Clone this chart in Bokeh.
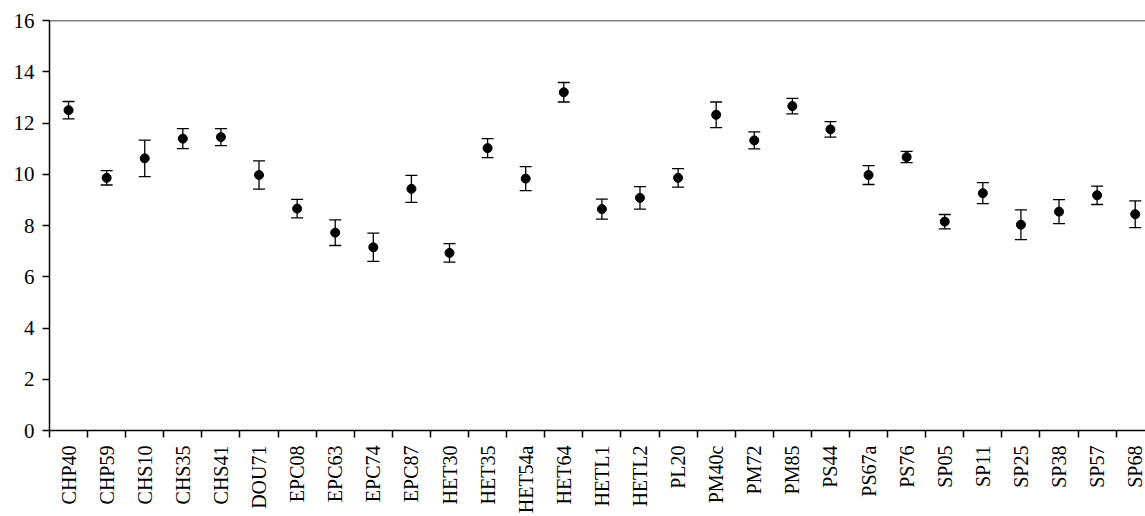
import math
from bokeh.plotting import figure
from bokeh.models import ColumnDataSource, Whisker, TeeHead, FixedTicker, Range1d, Span
from bokeh.embed import file_html
from bokeh.resources import INLINE

categories = ["CHP40", "CHP59", "CHS10", "CHS35", "CHS41", "DOU71", "EPC08", "EPC63",
              "EPC74", "EPC87", "HET30", "HET35", "HET54a", "HET64", "HETL1", "HETL2",
              "PL20", "PM40c", "PM72", "PM85", "PS44", "PS67a", "PS76", "SP05", "SP11",
              "SP25", "SP38", "SP57", "SP68"]
means = [12.50, 9.86, 10.62, 11.39, 11.45, 9.97, 8.66, 7.72,
         7.15, 9.43, 6.93, 11.02, 9.83, 13.20, 8.64, 9.08,
         9.86, 12.32, 11.32, 12.66, 11.75, 9.97, 10.67, 8.15, 9.26,
         8.03, 8.54, 9.18, 8.44]
errors = [0.34, 0.28, 0.71, 0.39, 0.33, 0.55, 0.36, 0.50,
          0.55, 0.53, 0.36, 0.37, 0.47, 0.38, 0.39, 0.44,
          0.36, 0.50, 0.33, 0.30, 0.30, 0.37, 0.22, 0.28, 0.41,
          0.58, 0.47, 0.36, 0.52]
y_ticks = [0, 2, 4, 6, 8, 10, 12, 14, 16]

FONT = "Liberation Serif"

xs = [i + 0.5 for i in range(len(categories))]
src = ColumnDataSource(dict(
    x=xs, y=means,
    upper=[m + e for m, e in zip(means, errors)],
    lower=[m - e for m, e in zip(means, errors)],
))

p = figure(width=1145, height=516, output_backend="svg", toolbar_location=None,
           x_range=Range1d(0, 28.77), y_range=Range1d(0, 16),
           min_border_left=49, min_border_top=20, min_border_right=0,
           min_border_bottom=85)
p.outline_line_color = None
p.xgrid.visible = False
p.ygrid.visible = False
p.background_fill_color = "white"
p.border_fill_color = "white"

# y axis
p.yaxis.ticker = FixedTicker(ticks=y_ticks)
p.yaxis.axis_line_width = 1.5
p.yaxis.axis_line_color = "black"
p.yaxis.major_tick_line_color = "black"
p.yaxis.major_tick_line_width = 1.5
p.yaxis.major_tick_in = 0
p.yaxis.major_tick_out = 7
p.yaxis.minor_tick_line_color = None
p.yaxis.major_label_text_font = FONT
p.yaxis.major_label_text_font_size = "21px"
p.yaxis.major_label_text_color = "black"
p.yaxis.major_label_standoff = 8

# x axis: labels at category centers, ticks at boundaries
p.xaxis.ticker = FixedTicker(ticks=xs, minor_ticks=list(range(len(categories) + 1)))
p.xaxis.major_label_overrides = {x: c for x, c in zip(xs, categories)}
p.xaxis.major_tick_line_color = None
p.xaxis.major_tick_out = 7
p.xaxis.major_tick_in = 0
p.xaxis.minor_tick_line_color = "black"
p.xaxis.minor_tick_line_width = 1.5
p.xaxis.minor_tick_in = 0
p.xaxis.minor_tick_out = 7
p.xaxis.axis_line_width = 1.5
p.xaxis.axis_line_color = "black"
p.xaxis.major_label_orientation = math.pi / 2
p.xaxis.major_label_text_font = FONT
p.xaxis.major_label_text_font_size = "20px"
p.xaxis.major_label_text_color = "black"
p.xaxis.major_label_standoff = 8

# top border
p.add_layout(Span(location=16, dimension="width", line_color="black", line_width=1.5))

# error bars
wh = Whisker(source=src, base="x", upper="upper", lower="lower",
             line_color="black", line_width=1.3,
             upper_head=TeeHead(size=12, line_color="black", line_width=1.3),
             lower_head=TeeHead(size=12, line_color="black", line_width=1.3))
p.add_layout(wh)

p.scatter("x", "y", source=src, size=9, fill_color="black", line_color="black")

open("out.html", "w").write(file_html(p, INLINE))
